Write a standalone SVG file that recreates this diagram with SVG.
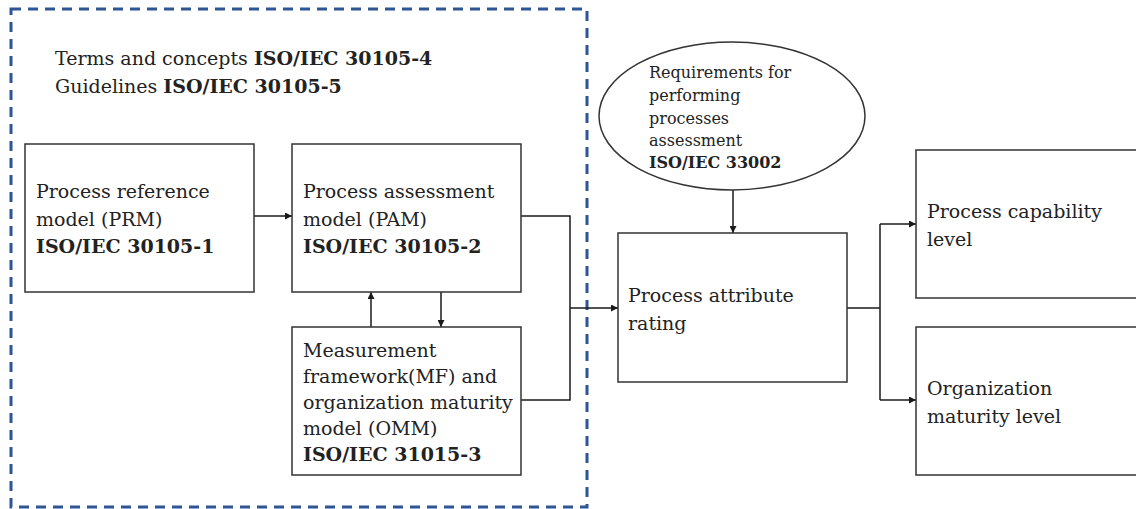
<svg xmlns="http://www.w3.org/2000/svg" width="1136" height="509" viewBox="0 0 1136 509">
<defs>
<marker id="ah" viewBox="0 0 10 10" refX="10" refY="5" markerWidth="7" markerHeight="7" markerUnits="userSpaceOnUse" orient="auto"><path d="M0,0 L10,5 L0,10 z" fill="#1a1a1a"/></marker>
<style>
.box{fill:#fff;stroke:#333;stroke-width:1.5}
.t{font-family:"DejaVu Serif","Liberation Serif",serif;font-size:19px;fill:#222}
.s{font-family:"DejaVu Serif","Liberation Serif",serif;font-size:16px;fill:#222}
.b{font-weight:bold}
.c{fill:none;stroke:#1a1a1a;stroke-width:1.5}
</style>
</defs>
<rect width="1136" height="509" fill="#fff"/>
<rect id="boundary" x="11" y="9" width="576" height="498" fill="none" stroke="#2f5597" stroke-width="3" stroke-dasharray="10,7"/>
<g id="header">
<text class="t" x="55" y="65">Terms and concepts <tspan class="b">ISO/IEC 30105-4</tspan></text>
<text class="t" x="55" y="93">Guidelines <tspan class="b">ISO/IEC 30105-5</tspan></text>
</g>
<g id="connectors">
<path class="c" d="M254,216 H292" marker-end="url(#ah)"/>
<path class="c" d="M521,216 H570 V400 H521"/>
<path class="c" d="M570,308 H618" marker-end="url(#ah)"/>
<path class="c" d="M441,292 V327" marker-end="url(#ah)"/>
<path class="c" d="M371,327 V292" marker-end="url(#ah)"/>
<path class="c" d="M733,190 V233" marker-end="url(#ah)"/>
<path class="c" d="M847,308 H880"/>
<path class="c" d="M880,224 V400"/>
<path class="c" d="M880,224 H916" marker-end="url(#ah)"/>
<path class="c" d="M880,400 H916" marker-end="url(#ah)"/>
</g>
<g id="prm">
<rect class="box" x="25" y="144" width="229" height="148"/>
<text class="t" x="36" y="198">Process reference</text>
<text class="t" x="36" y="226">model (PRM)</text>
<text class="t b" x="36" y="253">ISO/IEC 30105-1</text>
</g>
<g id="pam">
<rect class="box" x="292" y="144" width="229" height="148"/>
<text class="t" x="303" y="198">Process assessment</text>
<text class="t" x="303" y="226">model (PAM)</text>
<text class="t b" x="303" y="253">ISO/IEC 30105-2</text>
</g>
<g id="mf">
<rect class="box" x="292" y="327" width="229" height="148"/>
<text class="t" x="303" y="357">Measurement</text>
<text class="t" x="303" y="383">framework(MF) and</text>
<text class="t" x="303" y="409">organization maturity</text>
<text class="t" x="303" y="435">model (OMM)</text>
<text class="t b" x="303" y="461">ISO/IEC 31015-3</text>
</g>
<g id="requirements">
<ellipse cx="732" cy="116" rx="133" ry="74" fill="#fff" stroke="#333" stroke-width="1.5"/>
<text class="s" x="649" y="78">Requirements for</text>
<text class="s" x="649" y="101">performing</text>
<text class="s" x="649" y="124">processes</text>
<text class="s" x="649" y="146">assessment</text>
<text class="s b" x="649" y="168">ISO/IEC 33002</text>
</g>
<g id="rating">
<rect class="box" x="618" y="233" width="229" height="149"/>
<text class="t" x="628" y="302">Process attribute</text>
<text class="t" x="628" y="330">rating</text>
</g>
<g id="capability">
<rect class="box" x="916" y="150" width="230" height="148"/>
<text class="t" x="927" y="218">Process capability</text>
<text class="t" x="927" y="246">level</text>
</g>
<g id="maturity">
<rect class="box" x="916" y="327" width="230" height="148"/>
<text class="t" x="927" y="395">Organization</text>
<text class="t" x="927" y="423">maturity level</text>
</g>
</svg>
